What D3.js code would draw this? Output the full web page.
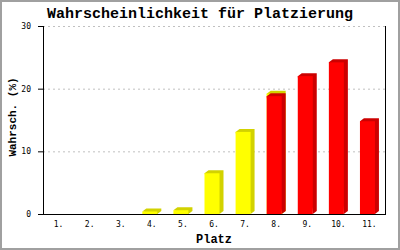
<!DOCTYPE html>
<html>
<head>
<meta charset="utf-8">
<script src="https://cdn.jsdelivr.net/npm/d3@7"></script>
<style>
body { margin: 0; background: #fff; }
svg { display: block; }
</style>
</head>
<body>
<svg id="svgcanvas" width="400" height="250"></svg>
<script>
// data
var places = ["1.", "2.", "3.", "4.", "5.", "6.", "7.", "8.", "9.", "10.", "11."];
var yellowVals = [0, 0, 0, 0.4, 0.6, 6.5, 13.1, 19.2, 0, 0, 0];
var redVals = [0, 0, 0, 0, 0, 0, 0, 18.8, 22.0, 24.2, 14.8];
var yTicks = [0, 10, 20, 30];

var svg = d3.select("#svgcanvas");
// plot area edges (note: "top" is a reserved window prop, so use other names)
var plotL = 43, plotR = 385, plotT = 26, plotB = 214;

var x = d3.scaleBand().domain(places).range([plotL, plotR]);
var y = d3.scaleLinear().domain([0, 30]).range([plotB, plotT]);

// outer frame
svg.append("rect").attr("x", 1).attr("y", 1).attr("width", 398).attr("height", 248)
  .attr("fill", "#fff").attr("stroke", "#a0a0a0").attr("stroke-width", 2);

// grid
svg.selectAll("line.grid").data(yTicks.filter(d => d > 0)).enter().append("line")
  .classed("grid", true)
  .attr("x1", plotL).attr("x2", plotR)
  .attr("y1", d => y(d) + 0.5).attr("y2", d => y(d) + 0.5)
  .attr("stroke", "#c0c0c0").attr("stroke-dasharray", "2,3");

var faceW = 15, dx = 4, dy = 3;

function drawBars(vals, face, side) {
  var g = svg.append("g");
  var bars = g.selectAll("g").data(vals.map((v, i) => ({v: v, p: places[i]})).filter(d => d.v > 0))
    .enter().append("g");
  bars.append("polygon")
    .attr("points", function(d) {
      var x0 = x(d.p) + x.bandwidth() / 2 - (faceW + dx) / 2;
      var yt = y(d.v);
      return [[x0, yt], [x0 + dx, yt - dy], [x0 + faceW + dx, yt - dy],
              [x0 + faceW + dx, plotB - dy], [x0 + faceW, plotB]].join(" ");
    })
    .attr("fill", side);
  bars.append("rect")
    .attr("x", d => x(d.p) + x.bandwidth() / 2 - (faceW + dx) / 2)
    .attr("y", d => y(d.v))
    .attr("width", faceW)
    .attr("height", d => plotB - y(d.v))
    .attr("fill", face);
}
drawBars(yellowVals, "#ffff00", "#d2d200");
drawBars(redVals, "#ff0000", "#cc0000");

// axes
svg.append("line").attr("x1", plotL + 0.5).attr("x2", plotL + 0.5).attr("y1", plotT).attr("y2", plotB + 0.5)
  .attr("stroke", "#000");
svg.append("line").attr("x1", plotR + 0.5).attr("x2", plotR + 0.5).attr("y1", plotT).attr("y2", plotB + 0.5)
  .attr("stroke", "#000");
svg.append("line").attr("x1", plotL).attr("x2", plotR + 1).attr("y1", plotB + 0.5).attr("y2", plotB + 0.5)
  .attr("stroke", "#000");

svg.selectAll("line.ytick").data(yTicks).enter().append("line")
  .classed("ytick", true)
  .attr("x1", plotL - 5).attr("x2", plotL)
  .attr("y1", d => y(d) + 0.5).attr("y2", d => y(d) + 0.5)
  .attr("stroke", "#000");

svg.selectAll("text.ylab").data(yTicks).enter().append("text")
  .classed("ylab", true)
  .attr("x", plotL - 12).attr("y", d => y(d) + 3)
  .attr("text-anchor", "end")
  .attr("font-family", "DejaVu Sans Mono").attr("font-size", 8)
  .text(d => d);

svg.selectAll("text.xlab").data(places).enter().append("text")
  .classed("xlab", true)
  .attr("x", d => x(d) + x.bandwidth() / 2)
  .attr("y", plotB + 13)
  .attr("text-anchor", "middle")
  .attr("font-family", "DejaVu Sans Mono").attr("font-size", 8)
  .text(d => d);

// titles
svg.append("text").attr("x", 200).attr("y", 18).attr("text-anchor", "middle")
  .attr("font-family", "Liberation Mono").attr("font-weight", "bold").attr("font-size", 15)
  .text("Wahrscheinlichkeit für Platzierung");

svg.append("text").attr("x", 214).attr("y", 243).attr("text-anchor", "middle")
  .attr("font-family", "Liberation Mono").attr("font-weight", "bold").attr("font-size", 12)
  .text("Platz");

svg.append("text").attr("transform", "translate(16,117) rotate(-90)").attr("text-anchor", "middle")
  .attr("font-family", "Liberation Mono").attr("font-weight", "bold").attr("font-size", 11)
  .text("Wahrsch. (%)");
</script>
</body>
</html>
